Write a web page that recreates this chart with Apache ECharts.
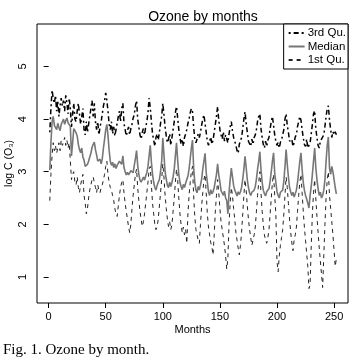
<!DOCTYPE html>
<html>
<head>
<meta charset="utf-8">
<script src="https://cdn.jsdelivr.net/npm/echarts@6/dist/echarts.min.js"></script>
<style>
  html, body { margin: 0; background: #fff; }
  #chart { width: 356px; height: 363px; }
</style>
</head>
<body>
<div id="chart"></div>
<script>
// monthly index 1..252 (21 years)
const months = Array.from({ length: 252 }, (_, i) => i + 1);

// values, one row per year
const q3 = [
  3.75, 4.20, 4.55, 4.40, 4.30, 4.45, 4.15, 4.35, 4.05, 4.25, 4.40, 4.25,
  4.35, 4.15, 4.45, 4.30, 4.10, 4.40, 4.20, 3.85, 4.10, 4.30, 4.00, 3.95,
  4.15, 4.30, 4.10, 3.90, 4.05, 4.20, 3.80, 3.70, 3.95, 3.75, 3.90, 4.05,
  4.20, 4.35, 4.05, 4.30, 3.95, 3.80, 3.95, 3.70, 3.85, 3.95, 4.10, 4.25,
  4.35, 4.50, 4.35, 4.15, 3.90, 3.80, 3.95, 3.72, 3.85, 3.68, 3.80, 3.92,
  4.05, 4.15, 3.95, 4.20, 4.30, 3.92, 3.80, 3.68, 3.78, 3.85, 3.70, 3.82,
  3.90, 4.02, 4.08, 4.25, 4.35, 4.00, 3.85, 3.70, 3.62, 3.75, 3.82, 3.70,
  3.85, 3.95, 4.12, 4.40, 4.22, 3.95, 3.72, 3.60, 3.48, 3.65, 3.72, 3.60,
  3.75, 3.92, 4.05, 4.30, 4.08, 3.85, 3.68, 3.55, 3.62, 3.72, 3.50, 3.65,
  3.80, 3.95, 4.12, 4.24, 4.02, 3.80, 3.65, 3.52, 3.62, 3.48, 3.65, 3.72,
  3.80, 3.92, 4.00, 4.12, 4.20, 4.14, 3.85, 3.62, 3.55, 3.62, 3.72, 3.65,
  3.75, 3.88, 4.00, 4.08, 3.92, 3.75, 3.58, 3.50, 3.57, 3.66, 3.52, 3.60,
  3.75, 3.90, 4.05, 4.24, 3.98, 3.80, 3.70, 3.62, 3.76, 3.58, 3.70, 3.62,
  3.55, 3.72, 3.85, 3.95, 3.78, 3.65, 3.58, 3.50, 3.40, 3.35, 3.52, 3.55,
  3.65, 3.82, 4.00, 4.14, 3.92, 3.75, 3.58, 3.55, 3.48, 3.62, 3.52, 3.65,
  3.70, 3.80, 3.96, 4.05, 4.10, 3.82, 3.65, 3.52, 3.45, 3.58, 3.48, 3.60,
  3.65, 3.82, 3.95, 4.05, 3.88, 3.70, 3.58, 3.50, 3.56, 3.45, 3.56, 3.60,
  3.70, 3.80, 4.00, 4.10, 3.88, 3.75, 3.58, 3.55, 3.62, 3.48, 3.55, 3.66,
  3.70, 3.86, 3.95, 4.05, 3.98, 3.80, 3.65, 3.52, 3.48, 3.62, 3.45, 3.50,
  3.55, 3.72, 3.90, 4.10, 4.16, 3.82, 3.65, 3.50, 3.45, 3.58, 3.62, 3.65,
  3.70, 3.86, 4.05, 4.20, 4.25, 3.98, 3.80, 3.65, 3.76, 3.70, 3.76, 3.70
];

const median = [
  3.03, 3.55, 3.95, 4.05, 3.88, 3.90, 3.80, 3.92, 3.84, 3.78, 3.90, 3.95,
  4.00, 3.90, 3.97, 4.02, 3.93, 3.90, 3.86, 3.30, 3.55, 3.82, 3.78, 3.74,
  3.68, 3.52, 3.42, 3.36, 3.45, 3.28, 3.22, 3.10, 3.07, 3.14, 3.20, 3.28,
  3.35, 3.46, 3.52, 3.56, 3.42, 3.32, 3.20, 3.17, 3.24, 3.15, 3.25, 3.45,
  3.62, 3.80, 3.90, 3.68, 3.40, 3.20, 3.12, 3.18, 3.08, 3.15, 3.06, 3.12,
  3.10, 3.20, 3.22, 3.14, 3.30, 3.08, 3.00, 2.94, 2.99, 2.94, 2.98, 3.02,
  3.05, 2.98, 3.12, 3.25, 3.40, 3.12, 2.95, 2.84, 2.80, 2.78, 2.90, 2.84,
  2.92, 2.98, 3.10, 3.30, 3.50, 3.18, 2.95, 2.80, 2.70, 2.65, 2.74, 2.80,
  2.85, 3.00, 3.20, 3.64, 3.32, 3.00, 2.86, 2.74, 2.70, 2.80, 2.72, 2.80,
  2.90, 3.05, 3.30, 3.55, 3.22, 2.95, 2.80, 2.72, 2.66, 2.76, 2.70, 2.78,
  2.85, 2.92, 3.05, 3.25, 3.45, 3.60, 3.08, 2.80, 2.65, 2.60, 2.72, 2.65,
  2.75, 2.86, 3.05, 3.20, 3.35, 2.98, 2.80, 2.62, 2.55, 2.66, 2.58, 2.62,
  2.70, 2.82, 2.95, 3.15, 2.94, 2.80, 2.64, 2.60, 2.55, 2.63, 2.50, 2.45,
  2.20, 2.60, 2.85, 3.07, 2.90, 2.74, 2.65, 2.60, 2.54, 2.62, 2.57, 2.62,
  2.70, 2.86, 3.05, 3.29, 3.08, 2.85, 2.70, 2.60, 2.55, 2.61, 2.58, 2.65,
  2.72, 2.86, 3.05, 3.20, 3.38, 3.04, 2.80, 2.65, 2.58, 2.54, 2.62, 2.60,
  2.68, 2.82, 3.00, 3.20, 3.36, 2.98, 2.80, 2.62, 2.55, 2.50, 2.61, 2.58,
  2.65, 2.82, 3.10, 3.42, 3.14, 2.90, 2.70, 2.62, 2.55, 2.61, 2.52, 2.58,
  2.65, 2.80, 3.00, 3.20, 3.36, 3.04, 2.80, 2.65, 2.55, 2.48, 2.40, 2.31,
  2.55, 2.72, 2.95, 3.20, 3.45, 3.08, 2.85, 2.68, 2.55, 2.61, 2.50, 2.55,
  2.65, 2.85, 3.20, 3.50, 3.66, 3.07, 2.95, 3.10, 3.00, 2.85, 2.70, 2.58
];

const q1 = [
  2.45, 2.95, 3.30, 3.55, 3.40, 3.50, 3.35, 3.45, 3.55, 3.40, 3.60, 3.50,
  3.55, 3.65, 3.50, 3.60, 3.45, 3.55, 3.20, 2.85, 2.95, 3.00, 2.80, 2.75,
  2.90, 2.70, 2.60, 2.75, 2.85, 2.95, 2.55, 2.40, 2.20, 2.30, 2.50, 2.65,
  2.75, 2.85, 2.90, 2.80, 2.70, 2.60, 2.75, 2.65, 2.60, 2.70, 2.75, 2.85,
  2.95, 3.10, 3.20, 2.95, 2.80, 2.70, 2.65, 2.55, 2.45, 2.30, 2.20, 2.15,
  2.35, 2.55, 2.70, 2.80, 2.85, 2.60, 2.40, 2.25, 2.10, 1.95, 1.84, 2.00,
  2.30, 2.55, 2.75, 2.95, 3.05, 2.70, 2.45, 2.25, 2.10, 1.96, 2.05, 2.20,
  2.40, 2.60, 2.80, 3.05, 3.10, 2.75, 2.40, 2.20, 2.00, 1.90, 1.95, 2.10,
  2.35, 2.60, 2.85, 3.15, 2.90, 2.55, 2.30, 2.10, 1.96, 2.05, 1.90, 2.00,
  2.25, 2.50, 2.80, 3.05, 2.85, 2.50, 2.20, 2.00, 1.84, 1.95, 1.80, 1.90,
  1.64, 2.20, 2.55, 2.80, 3.00, 3.10, 2.55, 2.15, 1.90, 1.80, 1.70, 1.64,
  2.00, 2.35, 2.60, 2.85, 2.95, 2.60, 2.20, 1.95, 1.80, 1.65, 1.57, 1.42,
  1.80, 2.25, 2.55, 2.85, 2.60, 2.30, 2.05, 1.90, 1.75, 1.60, 1.40, 1.15,
  1.36, 2.00, 2.40, 2.70, 2.55, 2.30, 2.10, 1.85, 1.70, 1.55, 1.42, 1.60,
  1.85, 2.20, 2.55, 2.85, 2.65, 2.35, 2.10, 1.90, 1.75, 1.60, 1.70, 1.80,
  1.95, 2.25, 2.55, 2.80, 3.00, 2.60, 2.25, 2.00, 1.80, 1.70, 1.64, 1.75,
  1.90, 2.20, 2.50, 2.80, 2.95, 2.55, 2.20, 1.30, 1.10, 1.40, 1.60, 1.75,
  1.90, 2.20, 2.55, 2.90, 2.70, 2.40, 2.10, 1.85, 1.65, 1.50, 1.70, 1.80,
  1.95, 2.25, 2.55, 2.80, 2.95, 2.60, 2.25, 1.95, 1.70, 1.45, 1.20, 0.78,
  0.85, 1.60, 2.20, 2.60, 2.85, 2.50, 2.15, 1.85, 1.55, 1.30, 1.05, 0.80,
  1.40, 2.00, 2.50, 2.85, 3.00, 2.55, 2.30, 2.05, 1.80, 1.50, 1.20, 1.35
];

const xTicks = [0, 50, 100, 150, 200, 250];
const yTicks = [1, 2, 3, 4, 5];

const pairs = vals => months.map((m, i) => [m, vals[i]]);

const chart = echarts.init(document.getElementById('chart'));

const option = {
  animation: false,
  textStyle: { fontFamily: 'Liberation Sans, Arial, sans-serif' },
  title: [
    {
      text: 'Ozone by months',
      left: 198,
      top: 5,
      textAlign: 'center',
      textStyle: { fontSize: 14, fontWeight: 'normal', color: '#000' }
    },
    {
      text: 'Fig. 1. Ozone by month.',
      left: 3,
      top: 343,
      padding: 0,
      textStyle: { fontFamily: 'Liberation Serif, Times New Roman, serif', fontSize: 15, fontWeight: 'normal', color: '#000' }
    }
  ],
  legend: {
    orient: 'vertical',
    right: 8,
    top: 24,
    itemWidth: 16,
    itemHeight: 10,
    itemGap: 1.5,
    padding: [3, 2, 3, 4],
    borderColor: '#000',
    borderWidth: 1,
    borderRadius: 0,
    backgroundColor: '#fff',
    itemStyle: { opacity: 0 },
    textStyle: { fontSize: 11.5, color: '#000', padding: [0, 0, 0, -2] },
    data: ['3rd Qu.', 'Median', '1st Qu.']
  },
  grid: {
    left: 37,
    right: 8,
    top: 24,
    bottom: 60,
    outerBoundsMode: 'none',
    show: true,
    borderColor: '#000',
    borderWidth: 1,
    backgroundColor: 'transparent'
  },
  xAxis: {
    type: 'value',
    min: -10.2,
    max: 262.2,
    name: 'Months',
    nameLocation: 'middle',
    nameGap: 21,
    nameMoveOverlap: false,
    nameTextStyle: { fontSize: 11, color: '#000' },
    axisLine: { show: false },
    splitLine: { show: false },
    axisTick: { show: true, inside: false, length: 5, customValues: xTicks, lineStyle: { color: '#000' } },
    axisLabel: { customValues: xTicks, fontSize: 11, color: '#000', margin: 8 }
  },
  yAxis: {
    type: 'value',
    min: 0.506,
    max: 5.806,
    name: 'log C (O₃)',
    nameLocation: 'middle',
    nameGap: 22,
    nameMoveOverlap: false,
    nameTextStyle: { fontSize: 10.5, color: '#000' },
    axisLine: { show: false },
    splitLine: { show: false },
    axisTick: { show: true, inside: false, length: 5, customValues: yTicks, lineStyle: { color: '#000' } },
    axisLabel: { customValues: yTicks, rotate: 90, fontSize: 11, color: '#000', margin: 9 }
  },
  series: [
    {
      name: '3rd Qu.',
      type: 'line',
      symbol: 'none',
      data: pairs(q3),
      color: '#000',
      lineStyle: { color: '#000', width: 1.5, type: [2, 3, 5, 3] }
    },
    {
      name: 'Median',
      type: 'line',
      symbol: 'none',
      data: pairs(median),
      color: '#777',
      lineStyle: { color: '#777', width: 1.6 }
    },
    {
      name: '1st Qu.',
      type: 'line',
      symbol: 'none',
      data: pairs(q1),
      color: '#222',
      lineStyle: { color: '#222', width: 1, type: [4, 4] }
    }
  ]
};

chart.setOption(option);
</script>
</body>
</html>
